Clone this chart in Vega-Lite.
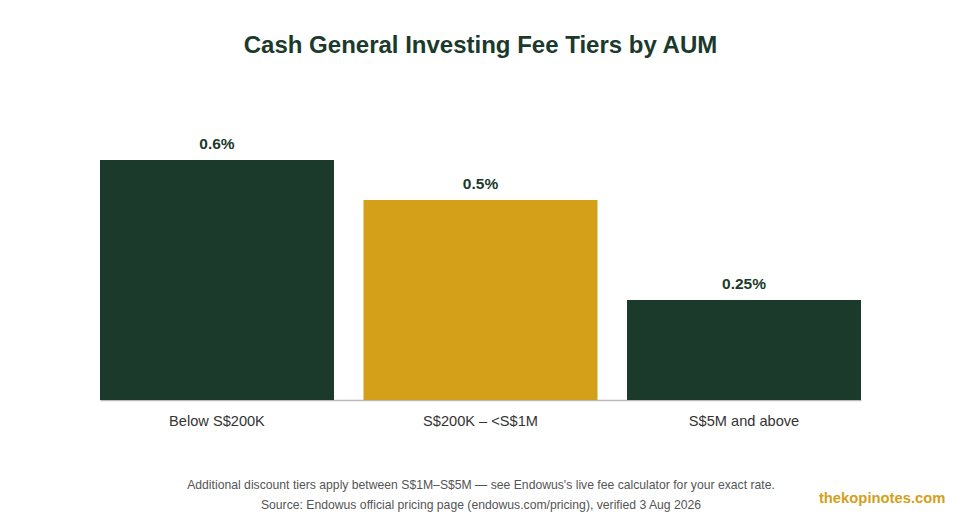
{
  "$schema": "https://vega.github.io/schema/vega-lite/v6.json",
  "autosize": "none",
  "width": 761,
  "height": 280,
  "padding": {"left": 100, "top": 120, "right": 99, "bottom": 120},
  "background": "white",
  "config": {
    "font": "Liberation Sans",
    "view": {"stroke": null}
  },
  "title": {
    "text": "Cash General Investing Fee Tiers by AUM",
    "fontSize": 24,
    "fontWeight": "bold",
    "color": "#1b3a2b",
    "anchor": "middle",
    "offset": 62
  },
  "data": {
    "values": [
      {"tier": "Below S$200K", "fee": 0.006, "group": "standard"},
      {"tier": "S$200K – <S$1M", "fee": 0.005, "group": "highlight"},
      {"tier": "S$5M and above", "fee": 0.0025, "group": "standard"}
    ]
  },
  "encoding": {
    "x": {
      "field": "tier",
      "type": "nominal",
      "sort": null,
      "scale": {"paddingInner": 0.112, "paddingOuter": 0},
      "axis": {
        "title": [
          "Additional discount tiers apply between S$1M–S$5M — see Endowus's live fee calculator for your exact rate.",
          "Source: Endowus official pricing page (endowus.com/pricing), verified 3 Aug 2026"
        ],
        "titleFontSize": 12.2,
        "titleFontWeight": "normal",
        "titleColor": "#555555",
        "titleLineHeight": 20,
        "titlePadding": 51,
        "labelAngle": 0,
        "labelFontSize": 14.6,
        "labelColor": "#333333",
        "labelPadding": 13,
        "ticks": false,
        "domainColor": "#bbbbbb",
        "domainWidth": 1.5
      }
    },
    "y": {
      "field": "fee",
      "type": "quantitative",
      "scale": {"domain": [0, 0.007], "nice": false},
      "axis": {
        "orient": "right",
        "domain": false,
        "ticks": false,
        "labels": false,
        "grid": false,
        "title": "thekopinotes.com",
        "titleAngle": 0,
        "titleAlign": "right",
        "titleBaseline": "alphabetic",
        "titleX": 84,
        "titleY": 382,
        "titleFontSize": 14.8,
        "titleFontWeight": "bold",
        "titleColor": "#d4a01a"
      }
    }
  },
  "layer": [
    {
      "mark": {"type": "bar"},
      "encoding": {
        "color": {
          "field": "group",
          "type": "nominal",
          "scale": {"domain": ["standard", "highlight"], "range": ["#1b3a2b", "#d4a01a"]},
          "legend": null
        }
      }
    },
    {
      "mark": {"type": "text", "baseline": "alphabetic", "dy": -11, "fontSize": 15.5, "fontWeight": "bold", "color": "#1b3a2b"},
      "encoding": {
        "text": {"field": "fee", "type": "quantitative", "format": ".2~%"}
      }
    }
  ]
}
